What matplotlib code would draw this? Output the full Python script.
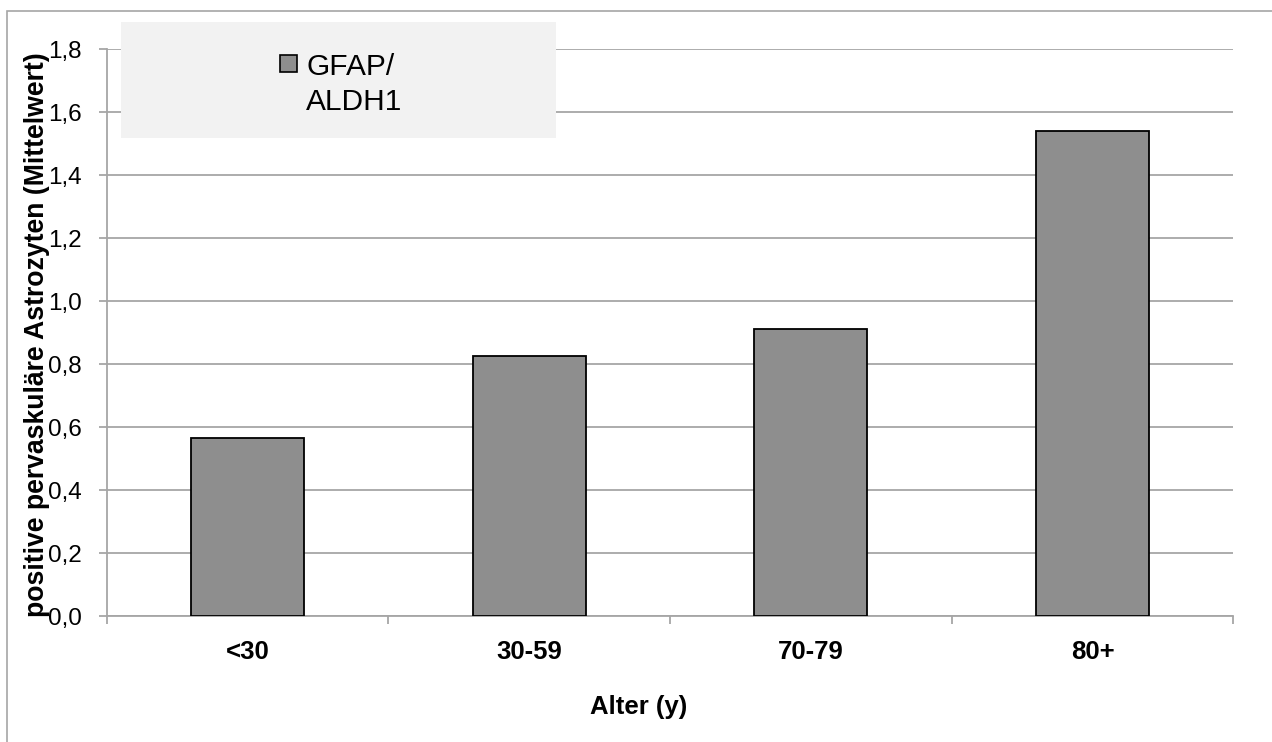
import matplotlib
matplotlib.use("Agg")
import matplotlib.pyplot as plt
from matplotlib.patches import Rectangle
from matplotlib.ticker import FixedLocator, NullFormatter

plt.rcParams['font.family'] = ['Liberation Sans', 'DejaVu Sans']

categories = ['<30', '30-59', '70-79', '80+']
values = [0.566, 0.825, 0.912, 1.542]
series_name = 'GFAP/\nALDH1'
y_ticks = [0.0, 0.2, 0.4, 0.6, 0.8, 1.0, 1.2, 1.4, 1.6, 1.8]
y_ticklabels = ['0,0', '0,2', '0,4', '0,6', '0,8', '1,0', '1,2', '1,4', '1,6', '1,8']
x_title = 'Alter (y)'
y_title = 'positive pervaskuläre Astrozyten (Mittelwert)'

W, H = 1272, 742
fig = plt.figure(figsize=(W / 100, H / 100), dpi=100)

def fx(px):
    return px / W

def fy(py):
    return (H - py) / H

# outer chart border (only left/top visible)
fig.patches.append(Rectangle((fx(7), -0.1), 1.2, fy(11) + 0.1, transform=fig.transFigure,
                             fill=False, edgecolor='#a6a6a6', linewidth=1.2, zorder=0))

left, right, top, bottom = 106.7, 1233.3, 49.3, 616.3
ax = fig.add_axes([fx(left), fy(bottom), fx(right) - fx(left), fy(top) - fy(bottom)])
ax.set_facecolor('none')

grid_c = '#a6a6a6'
bar_c = '#8e8e8e'
xpos = list(range(len(categories)))
bars = ax.bar(xpos, values, width=0.4, color=bar_c, edgecolor='black', linewidth=1.3, zorder=3)

ax.set_xlim(-0.5, len(categories) - 0.5)
ax.set_ylim(0, 1.8)
ax.set_yticks(y_ticks)
ax.set_yticklabels(y_ticklabels)
ax.yaxis.grid(True, color=grid_c, linewidth=1.3, zorder=0)
ax.set_axisbelow(True)

# x: major ticks at category boundaries, labels at centres
ax.xaxis.set_major_locator(FixedLocator([i - 0.5 for i in range(len(categories) + 1)]))
ax.xaxis.set_major_formatter(NullFormatter())
ax.xaxis.set_minor_locator(FixedLocator(xpos))
ax.set_xticklabels(categories, minor=True, fontweight='bold', fontsize=18.5)
ax.tick_params(axis='x', which='major', direction='out', length=6, width=1.3, color=grid_c)
ax.tick_params(axis='x', which='minor', length=0, pad=17)
ax.tick_params(axis='y', direction='out', length=5.5, width=1.3, color=grid_c, pad=12.5,
               labelsize=17.5)

for s in ['top', 'right']:
    ax.spines[s].set_visible(False)
for s in ['left', 'bottom']:
    ax.spines[s].set_color(grid_c)
    ax.spines[s].set_linewidth(1.3)

# legend background and entry
fig.patches.append(Rectangle((fx(121), fy(138)), fx(556) - fx(121), fy(22) - fy(138),
                             transform=fig.transFigure, facecolor='#f2f2f2',
                             edgecolor='none', zorder=5))
fig.patches.append(Rectangle((fx(280), fy(72)), fx(297) - fx(280), fy(55) - fy(72),
                             transform=fig.transFigure, facecolor=bar_c,
                             edgecolor='black', linewidth=1.2, zorder=6))
fig.text(fx(306), fy(53), series_name, ha='left', va='top', fontsize=21.5,
         linespacing=1.3, zorder=7)

# axis titles
fig.text(fx(639), fy(707), x_title, ha='center', va='center', fontsize=18.5, fontweight='bold')
fig.text(fx(37), fy(335), y_title, ha='center', va='center', rotation=90,
         fontsize=19.2, fontweight='bold', zorder=8)

fig.savefig('out.png', dpi=100, facecolor='white')
